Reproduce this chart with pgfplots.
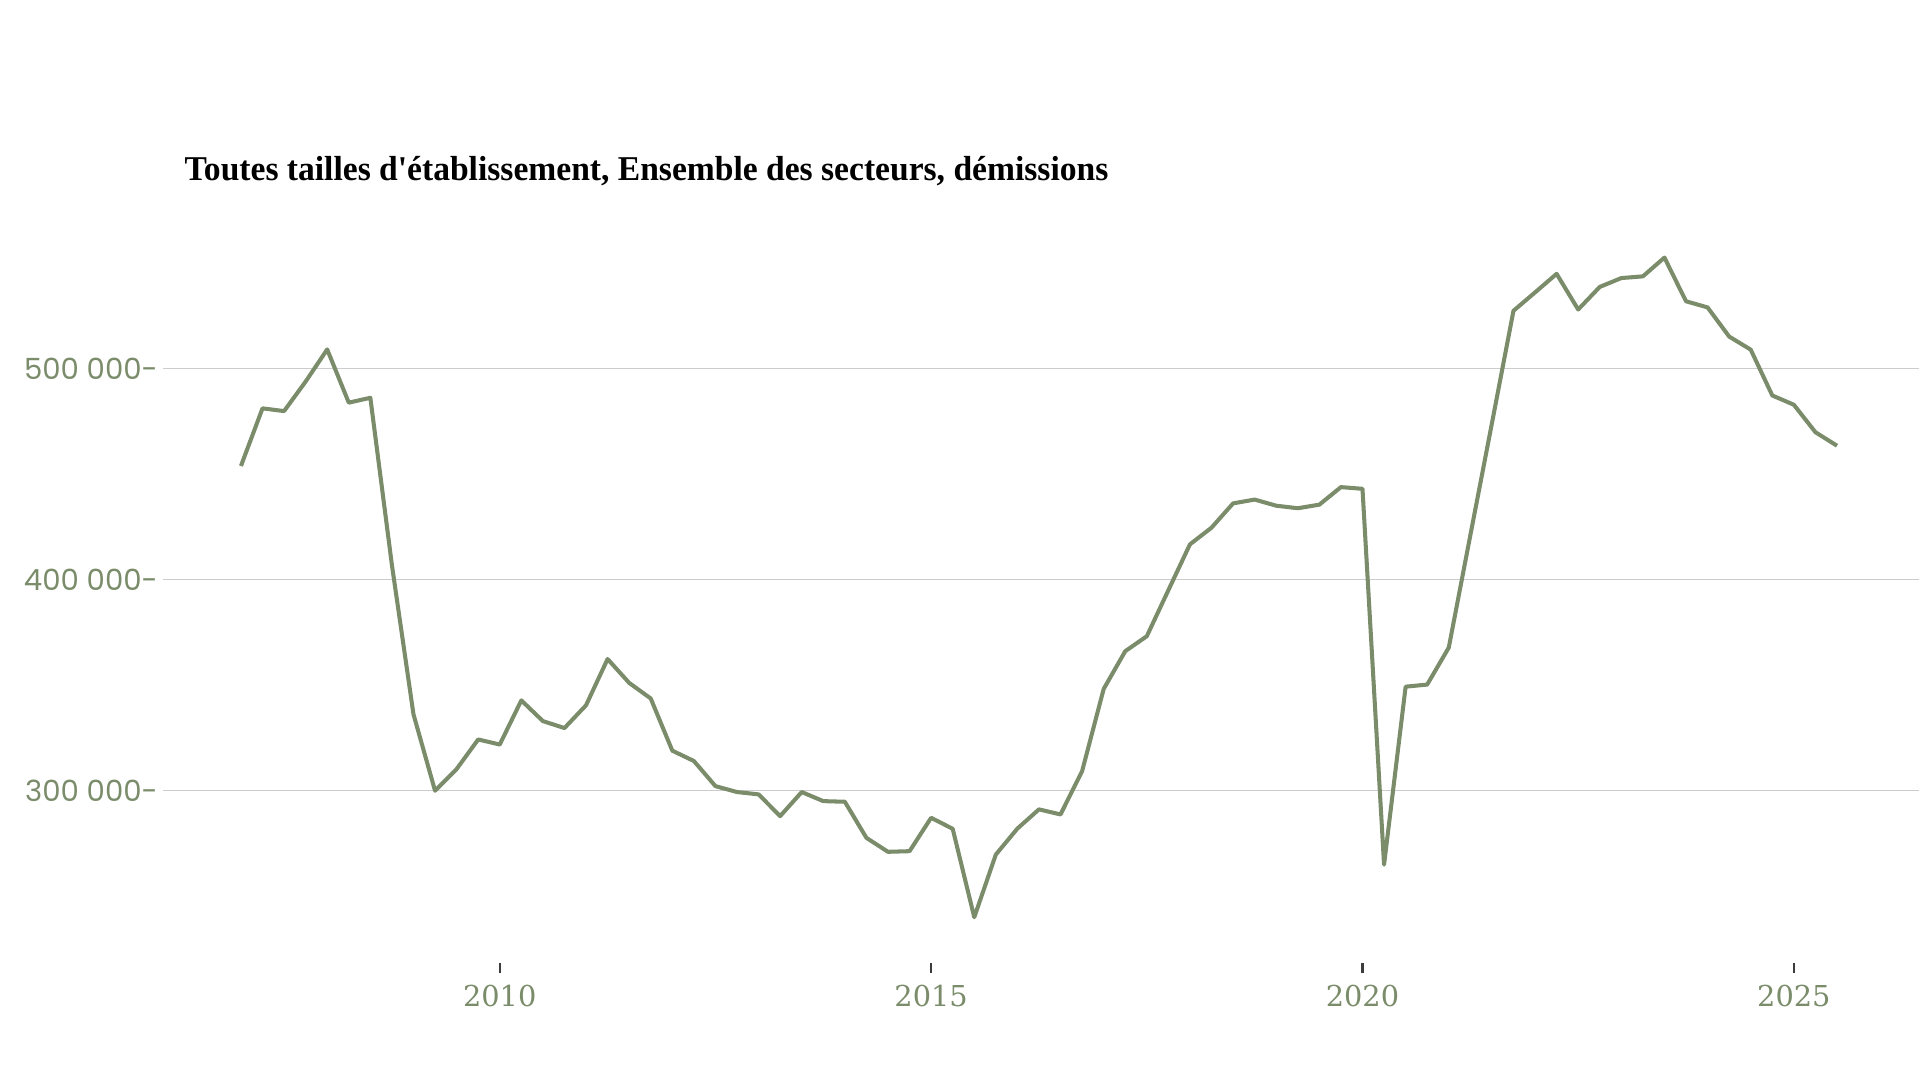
\documentclass[border=0pt]{standalone}
\usepackage{pgfplots}
\pgfplotsset{compat=1.18}
\usepackage{fontspec}
\setmainfont{Liberation Serif}
\newfontfamily\titlefont{Liberation Serif}[FakeStretch=0.965]
\newfontfamily\yfont{Poppins}
\newfontfamily\xfont{DejaVu Serif}
\definecolor{sage}{RGB}{122,140,106}
\definecolor{gridgray}{RGB}{204,204,204}
\definecolor{tickgray}{RGB}{60,60,60}

% demissions, quarterly, 2007 Q1 - 2025 Q3
\pgfplotstableread{
x y
2007.00 453800
2007.25 481100
2007.50 479800
2007.75 493800
2008.00 509000
2008.25 483800
2008.50 486100
2008.75 406900
2009.00 336200
2009.25 300000
2009.50 310300
2009.75 324300
2010.00 321900
2010.25 342800
2010.50 333000
2010.75 329700
2011.00 340500
2011.25 362400
2011.50 351100
2011.75 343700
2012.00 319000
2012.25 314100
2012.50 302200
2012.75 299400
2013.00 298300
2013.25 288000
2013.50 299400
2013.75 295100
2014.00 294800
2014.25 277700
2014.50 271100
2014.75 271400
2015.00 287200
2015.25 282000
2015.50 240100
2015.75 269800
2016.00 282100
2016.25 291200
2016.50 288800
2016.75 309300
2017.00 348200
2017.25 366100
2017.50 373200
2017.75 395000
2018.00 416700
2018.25 424600
2018.50 436100
2018.75 437900
2019.00 435000
2019.25 433800
2019.50 435500
2019.75 443800
2020.00 443000
2020.25 265000
2020.50 349300
2020.75 350300
2021.00 367800
2021.25 421000
2021.50 474000
2021.75 527300
2022.00 536000
2022.25 544800
2022.50 527900
2022.75 538600
2023.00 542800
2023.25 543600
2023.50 552500
2023.75 531800
2024.00 528900
2024.25 515100
2024.50 508900
2024.75 487200
2025.00 482800
2025.25 469800
2025.50 463400
}\demissions

\begin{document}
\begin{tikzpicture}
\path (0,0) rectangle (19.2,10.8);
\node[anchor=base west, inner sep=0pt, font=\titlefont\bfseries\fontsize{9.9}{12}\selectfont]
  at (1.84,8.99) {Toutes tailles d'établissement, Ensemble des secteurs, démissions};
\begin{axis}[
  at={(1.63cm,1.17cm)}, anchor=south west,
  scale only axis, width=17.57cm, height=7.33cm,
  xmin=2006.096, xmax=2026.455,
  ymin=218600, ymax=565600,
  axis line style={draw=none},
  scaled y ticks=false,
  xtick={2010,2015,2020,2025},
  xticklabels={2010,2015,2020,2025},
  ytick={300000,400000,500000},
  yticklabels={300 000-,400 000-,500 000-},
  ymajorgrids, grid style={gridgray, line width=0.35pt},
  tick align=outside,
  x tick style={tickgray, line width=0.6pt},
  xtick pos=bottom, ytick pos=left,
  major tick length=0.1cm,
  y tick style={draw=none},
  xticklabel style={font=\xfont\fontsize{8.2}{9}\selectfont, text=sage},
  yticklabel style={font=\yfont\fontsize{8.3}{10}\selectfont, text=sage, inner sep=0pt, anchor=east, xshift=0.055cm},
]
\addplot[sage, line width=1.15pt, line join=round, no marks] table {\demissions};
\end{axis}
\end{tikzpicture}
\end{document}
